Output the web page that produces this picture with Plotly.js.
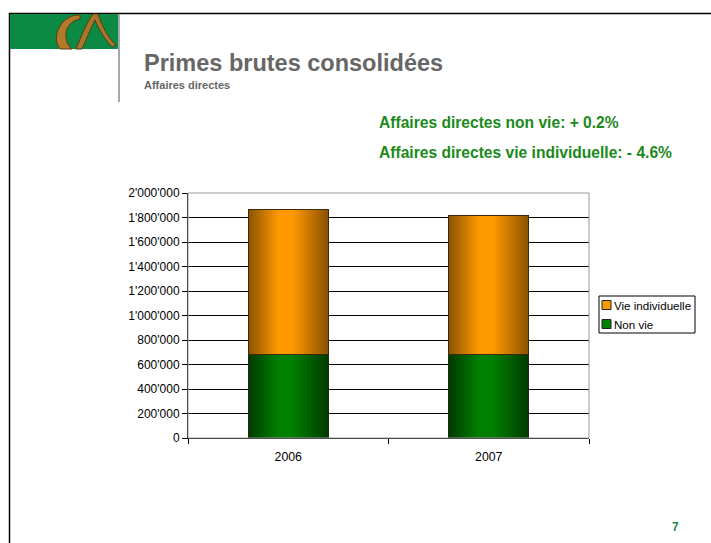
<!DOCTYPE html>
<html>
<head>
<meta charset="utf-8">
<script src="https://cdn.plot.ly/plotly-3.0.1.min.js"></script>
<style>html,body{margin:0;padding:0;background:#fff;overflow:hidden;}#chart{width:711px;height:543px;}</style>
</head>
<body>
<div id="chart"></div>
<script>
const years = ['2006', '2007'];
const nonVie = [681000, 682500];
const vieIndividuelle = [1186000, 1131000];
const seriesNames = ['Non vie', 'Vie individuelle'];
const seriesColors = ['#008000', '#FF9900'];
const yTicks = [0, 200000, 400000, 600000, 800000, 1000000, 1200000, 1400000, 1600000, 1800000, 2000000];

const W = 711, H = 543;
const L = 188, R = 589, T = 193, B = 438;
const px = x => (x - L) / (R - L);
const py = y => (B - y) / (B - T);
const FONT = 'Arial, "Liberation Sans", sans-serif';

const traces = [
  {type: 'bar', name: seriesNames[0], x: years, y: nonVie, showlegend: false,
   marker: {color: seriesColors[0], line: {color: '#1f2a10', width: 1}}},
  {type: 'bar', name: seriesNames[1], x: years, y: vieIndividuelle, showlegend: false,
   marker: {color: seriesColors[1], line: {color: '#3a2a10', width: 1}}}
];

const shapes = [
  // slide frame
  {type: 'line', xref: 'paper', yref: 'paper', x0: px(9), x1: px(711), y0: py(13.5), y1: py(13.5), line: {color: '#000', width: 1.5}},
  {type: 'line', xref: 'paper', yref: 'paper', x0: px(9.5), x1: px(9.5), y0: py(13), y1: py(543), line: {color: '#000', width: 1.5}},
  // logo green band
  {type: 'rect', xref: 'paper', yref: 'paper', x0: px(10), x1: px(118), y0: py(14), y1: py(49), fillcolor: '#0b8a45', line: {width: 0}},
  // swoosh C
  {type: 'path', xref: 'paper', yref: 'paper',
   path: `M ${px(80)},${py(15)} C ${px(62)},${py(14)} ${px(50)},${py(36)} ${px(60)},${py(49)} L ${px(72)},${py(49)} C ${px(62)},${py(40)} ${px(64)},${py(22)} ${px(80)},${py(19)} Z`,
   fillcolor: '#b07a2a', line: {color: '#5a3a10', width: 1}},
  // swoosh strands
  {type: 'path', xref: 'paper', yref: 'paper',
   path: `M ${px(76)},${py(49)} C ${px(82)},${py(34)} ${px(88)},${py(20)} ${px(93)},${py(14)} L ${px(98)},${py(14)} C ${px(102)},${py(26)} ${px(108)},${py(38)} ${px(116)},${py(45)} L ${px(112)},${py(47)} C ${px(104)},${py(38)} ${px(98)},${py(28)} ${px(95)},${py(20)} C ${px(90)},${py(30)} ${px(86)},${py(40)} ${px(82)},${py(49)} Z`,
   fillcolor: '#a8762a', line: {color: '#5a3a10', width: 1}},
  // gray vertical separator
  {type: 'line', xref: 'paper', yref: 'paper', x0: px(119), x1: px(119), y0: py(14), y1: py(102), line: {color: '#a8a8a8', width: 2}},
  // plot frame (gray)
  {type: 'rect', xref: 'paper', yref: 'paper', x0: 0, x1: 1, y0: 0, y1: 1, layer: 'above', line: {color: '#999', width: 1}},
  // legend box
  {type: 'rect', xref: 'paper', yref: 'paper', x0: px(599), x1: px(695), y0: py(296), y1: py(333), fillcolor: '#fff', line: {color: '#000', width: 1}},
  {type: 'rect', xref: 'paper', yref: 'paper', x0: px(602), x1: px(611), y0: py(300.5), y1: py(309.5), fillcolor: seriesColors[1], line: {color: '#222', width: 1}},
  {type: 'rect', xref: 'paper', yref: 'paper', x0: px(602), x1: px(611), y0: py(319.5), y1: py(328.5), fillcolor: seriesColors[0], line: {color: '#222', width: 1}}
];

const annotations = [
  {xref: 'paper', yref: 'paper', x: px(142), y: py(63), xanchor: 'left', yanchor: 'middle', showarrow: false,
   text: '<b>Primes brutes consolidées</b>', font: {family: FONT, size: 23.5, color: '#666666'}},
  {xref: 'paper', yref: 'paper', x: px(142), y: py(85), xanchor: 'left', yanchor: 'middle', showarrow: false,
   text: '<b>Affaires directes</b>', font: {family: FONT, size: 11, color: '#666666'}},
  {xref: 'paper', yref: 'paper', x: px(377), y: py(123), xanchor: 'left', yanchor: 'middle', showarrow: false,
   text: '<b>Affaires directes non vie: + 0.2%</b>', font: {family: FONT, size: 15.6, color: '#1a8a1a'}},
  {xref: 'paper', yref: 'paper', x: px(377), y: py(152), xanchor: 'left', yanchor: 'middle', showarrow: false,
   text: '<b>Affaires directes vie individuelle: - 4.6%</b>', font: {family: FONT, size: 15.6, color: '#1a8a1a'}},
  {xref: 'paper', yref: 'paper', x: px(675), y: py(527), xanchor: 'center', yanchor: 'middle', showarrow: false,
   text: '<b>7</b>', font: {family: FONT, size: 12, color: '#1a8a4a'}},
  {xref: 'paper', yref: 'paper', x: px(612), y: py(305), xanchor: 'left', yanchor: 'middle', showarrow: false,
   text: seriesNames[1], font: {family: FONT, size: 11.6, color: '#000'}},
  {xref: 'paper', yref: 'paper', x: px(612), y: py(324), xanchor: 'left', yanchor: 'middle', showarrow: false,
   text: seriesNames[0], font: {family: FONT, size: 11.6, color: '#000'}}
];

const layout = {
  width: W, height: H,
  margin: {l: L, r: W - R, t: T, b: H - B, pad: 0, autoexpand: false},
  paper_bgcolor: '#fff', plot_bgcolor: '#fff',
  barmode: 'stack', bargap: 0.6,
  separators: ".'",
  showlegend: false,
  xaxis: {type: 'category', showgrid: false, showline: true, linecolor: '#000', linewidth: 1,
          ticks: 'outside', tickson: 'boundaries', ticklen: 5, tickcolor: '#000', ticklabelstandoff: 7,
          tickfont: {family: FONT, size: 12.3, color: '#000'}, zeroline: false, fixedrange: true},
  yaxis: {range: [0, 2000000], tickvals: yTicks, tickformat: ',.0f', showgrid: true, gridcolor: '#000', gridwidth: 1,
          showline: true, linecolor: '#000', linewidth: 1, ticks: 'outside', ticklen: 5, tickcolor: '#000',
          tickfont: {family: FONT, size: 12, color: '#000'}, zeroline: false, fixedrange: true},
  shapes: shapes, annotations: annotations
};

Plotly.newPlot('chart', traces, layout, {displayModeBar: false, staticPlot: true}).then(gd => {
  const svg = gd.querySelector('.main-svg');
  let defs = svg.querySelector('defs');
  const ns = 'http://www.w3.org/2000/svg';
  function grad(id, edge, mid) {
    const g = document.createElementNS(ns, 'linearGradient');
    g.setAttribute('id', id);
    g.setAttribute('x1', '0'); g.setAttribute('x2', '1'); g.setAttribute('y1', '0'); g.setAttribute('y2', '0');
    [[0, edge], [0.38, mid], [0.55, mid], [1, edge]].forEach(([o, c]) => {
      const s = document.createElementNS(ns, 'stop');
      s.setAttribute('offset', o); s.setAttribute('stop-color', c);
      g.appendChild(s);
    });
    defs.appendChild(g);
  }
  grad('gGreen', '#003a00', '#008000');
  grad('gOrange', '#8a5200', '#FF9900');
  const traceGroups = gd.querySelectorAll('g.trace.bars');
  traceGroups.forEach((tg, i) => {
    tg.querySelectorAll('path').forEach(p => { p.style.fill = i === 0 ? 'url(#gGreen)' : 'url(#gOrange)'; });
  });
});
</script>
</body>
</html>
